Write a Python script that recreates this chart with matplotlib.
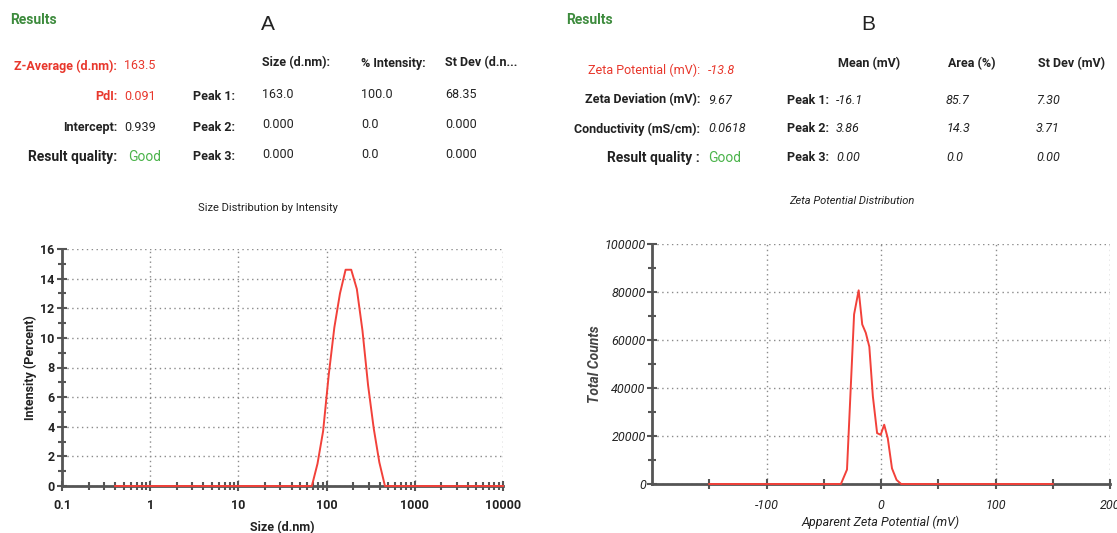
import matplotlib
matplotlib.use("Agg")
import matplotlib.pyplot as plt
from matplotlib.ticker import FixedLocator, MultipleLocator, LogLocator, NullFormatter

W, H = 1117, 533

# size distribution (A)
size_nm = [0.4, 68.06, 78.82, 91.28, 105.7, 122.4, 141.8, 164.2, 190.1,
           220.2, 255.0, 295.3, 342.0, 396.1, 458.7, 10000]
intensity = [0, 0, 1.5, 3.7, 7.5, 10.7, 13.0, 14.6, 14.6,
             13.3, 10.5, 6.8, 3.9, 1.6, 0, 0]

# zeta potential distribution (B)
zeta_mv = [-150, -35, -29.7, -23.5, -19.5, -16.4, -13.3, -10.2, -7.1,
           -3.4, -0.3, 2.8, 5.9, 9.6, 13.6, 17.6, 150]
counts = [0, 0, 6000, 70700, 80700, 66500, 63000, 57200, 36500,
          21200, 20500, 24700, 19100, 6500, 1700, 0, 0]

left_rows = [("Z-Average (d.nm):", "163.5"), ("PdI:", "0.091"),
             ("Intercept:", "0.939"), ("Result quality:", "Good")]
left_cols = ["Size (d.nm):", "% Intensity:", "St Dev (d.n..."]
left_peaks = [["163.0", "100.0", "68.35"], ["0.000", "0.0", "0.000"],
              ["0.000", "0.0", "0.000"]]

right_rows = [("Zeta Potential (mV):", "-13.8"), ("Zeta Deviation (mV):", "9.67"),
              ("Conductivity (mS/cm):", "0.0618"), ("Result quality :", "Good")]
right_cols = ["Mean (mV)", "Area (%)", "St Dev (mV)"]
right_peaks = [["-16.1", "85.7", "7.30"], ["3.86", "14.3", "3.71"],
               ["0.00", "0.0", "0.00"]]

plt.rcParams["font.family"] = ["Roboto", "DejaVu Sans"]
plt.rcParams["axes.unicode_minus"] = False

RED = "#e8372c"
LINE = "#f2413a"
GREEN_H = "#3d8b3d"
GREEN = "#4cb44c"
TXT = "#222222"
AX = "#555555"
GRID = "#8a8a8a"

fig = plt.figure(figsize=(W / 100, H / 100), dpi=100)


def put(x, y, s, **kw):
    kw.setdefault("va", "center")
    kw.setdefault("fontsize", 9)
    fig.text(x / W, 1 - y / H, s, **kw)


# ---- header A ----
put(10, 20, "Results", color=GREEN_H, fontweight="bold", fontsize=10)
put(268, 25, "A", fontsize=15, ha="center", family="Liberation Sans", color=TXT)
row_y = [66, 96, 127, 157]
for i, (lab, val) in enumerate(left_rows):
    col = RED if i < 2 else TXT
    put(117, row_y[i], lab, ha="right", color=col, fontweight="bold",
        fontsize=10 if i == 3 else 9)
    vcol = GREEN if i == 3 else col
    put(124 if i < 3 else 128, row_y[i], val, color=vcol,
        fontsize=10 if i == 3 else 9)
col_x = [262, 361, 445]
for j, c in enumerate(left_cols):
    put(col_x[j], 63, c, fontweight="bold", color=TXT)
for i, vals in enumerate(left_peaks):
    put(193, row_y[i + 1], f"Peak {i + 1}:", fontweight="bold", color=TXT)
    for j, v in enumerate(vals):
        put(col_x[j], row_y[i + 1] - 2, v, color=TXT)

# ---- header B ----
put(566, 20, "Results", color=GREEN_H, fontweight="bold", fontsize=10)
put(868, 25, "B", fontsize=15, ha="center", family="Liberation Sans", color=TXT)
row_y = [70, 100, 129, 158]
for i, (lab, val) in enumerate(right_rows):
    col = RED if i == 0 else TXT
    put(700, row_y[i], lab, ha="right", color=col,
        fontweight="normal" if i == 0 else "bold",
        fontsize=10 if i == 3 else 9)
    vcol = GREEN if i == 3 else col
    put(708, row_y[i], val, color=vcol, style="normal" if i == 3 else "italic",
        fontsize=10 if i == 3 else 9)
col_x = [838, 948, 1038]
for j, c in enumerate(right_cols):
    put(col_x[j], 64, c, fontweight="bold", color=TXT)
for i, vals in enumerate(right_peaks):
    put(787, row_y[i + 1], f"Peak {i + 1}:", fontweight="bold", color=TXT)
    for j, v in enumerate(vals):
        put(col_x[j] - 2, row_y[i + 1], v, style="italic", color=TXT)


def style_axes(ax):
    for s in ("top", "right"):
        ax.spines[s].set_visible(False)
    for s in ("left", "bottom"):
        ax.spines[s].set_color(AX)
        ax.spines[s].set_linewidth(2)
    ax.tick_params(which="both", direction="inout", color=AX, width=1.5)
    ax.tick_params(which="major", length=7)
    ax.tick_params(which="minor", length=6)
    ax.grid(True, which="major", linestyle=(0, (1, 2.5)), color=GRID, linewidth=1)
    ax.set_axisbelow(True)


# ---- chart A ----
axA = fig.add_axes([62 / W, 1 - 486 / H, 441 / W, 237 / H])
axA.plot(size_nm, intensity, color=LINE, linewidth=1.4, clip_on=False, zorder=3)
axA.set_xscale("log")
axA.set_xlim(0.1, 10000)
axA.set_ylim(0, 16)
axA.xaxis.set_major_locator(FixedLocator([0.1, 1, 10, 100, 1000, 10000]))
axA.xaxis.set_minor_locator(LogLocator(base=10, subs=range(2, 10)))
axA.xaxis.set_minor_formatter(NullFormatter())
axA.set_xticklabels(["0.1", "1", "10", "100", "1000", "10000"])
axA.yaxis.set_major_locator(MultipleLocator(2))
axA.yaxis.set_minor_locator(MultipleLocator(1))
style_axes(axA)
for lb in axA.get_xticklabels() + axA.get_yticklabels():
    lb.set_fontweight("bold")
    lb.set_fontsize(9)
    lb.set_color(TXT)
axA.tick_params(axis="x", pad=6)
axA.tick_params(axis="y", pad=2)
axA.set_xlabel("Size (d.nm)", fontsize=9, fontweight="bold", color=TXT, labelpad=6)
axA.set_ylabel("Intensity (Percent)", fontsize=9, fontweight="bold", color=TXT, labelpad=2)
put(268, 208, "Size Distribution by Intensity", ha="center", fontsize=8, color=TXT)

# ---- chart B ----
axB = fig.add_axes([652 / W, 1 - 484 / H, 458 / W, 240 / H])
axB.plot(zeta_mv, counts, color=LINE, linewidth=1.4, clip_on=False, zorder=3)
axB.set_xlim(-200, 200)
axB.set_ylim(0, 100000)
axB.xaxis.set_major_locator(FixedLocator([-100, 0, 100, 200]))
axB.xaxis.set_minor_locator(FixedLocator([-150, -50, 50, 150]))
axB.yaxis.set_major_locator(MultipleLocator(20000))
axB.yaxis.set_minor_locator(MultipleLocator(10000))
style_axes(axB)
axB.tick_params(axis="x", which="minor", length=7)
for lb in axB.get_xticklabels() + axB.get_yticklabels():
    lb.set_style("italic")
    lb.set_fontsize(9)
    lb.set_color(TXT)
axB.tick_params(axis="x", pad=7)
axB.tick_params(axis="y", pad=1)
axB.set_xlabel("Apparent Zeta Potential (mV)", fontsize=9, style="italic", color=TXT, labelpad=3)
axB.set_ylabel("Total Counts", fontsize=10, style="italic", fontweight="bold", color="#444444", labelpad=2)
put(852, 201, "Zeta Potential Distribution", ha="center", fontsize=8, style="italic", color=TXT)

fig.savefig("out.png", dpi=100)
